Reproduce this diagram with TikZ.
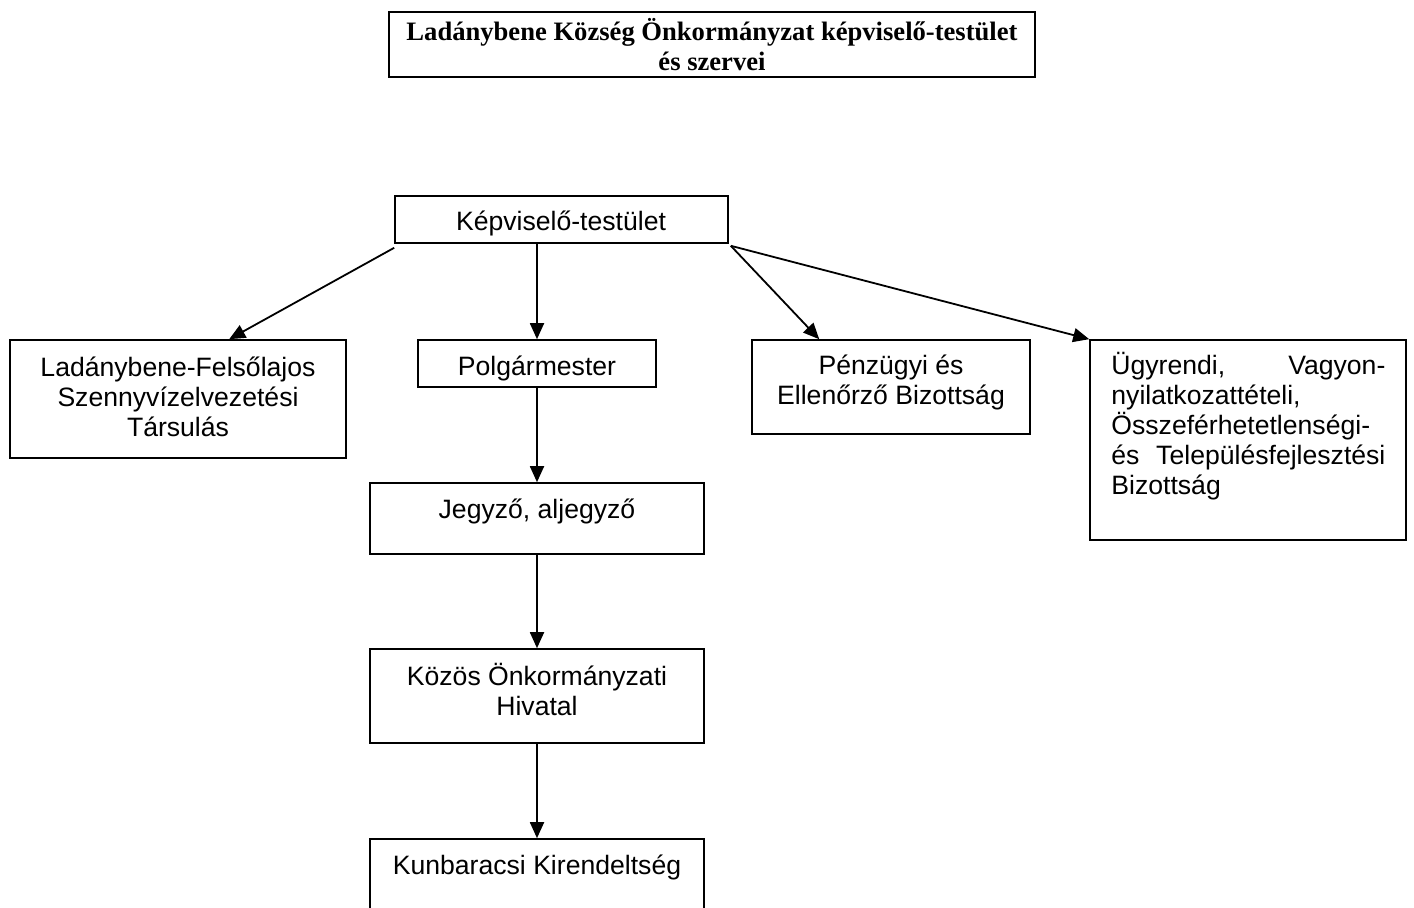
\documentclass[tikz,border=0pt]{standalone}
\usepackage{fontspec}
\setmainfont{Liberation Sans}
\newfontfamily\titlefont{Liberation Serif}
\usetikzlibrary{arrows.meta,fit}
\begin{document}
\begin{tikzpicture}[x=0.5pt,y=-0.5pt,
  box/.style={draw, line width=0.8pt, inner sep=0pt},
  lbl/.style={inner sep=0pt, align=center, font=\fontsize{13.3}{15}\selectfont},
  ttl/.style={inner sep=0pt, align=center, font=\titlefont\bfseries\fontsize{13.3}{15}\selectfont},
  arr/.style={line width=0.9pt, -{Triangle[length=8pt,width=7pt]}}]
\useasboundingbox (0,0) rectangle (1414,908);
% boxes
\node[box, fit={(389,12) (1035,77)}] (title) {};
\node[box, fit={(395,196) (728,243)}] (kep) {};
\node[box, fit={(10,340) (346,458)}] (tars) {};
\node[box, fit={(418,340) (656,387)}] (polg) {};
\node[box, fit={(752,340) (1030,434)}] (penz) {};
\node[box, fit={(1090,340) (1406,540)}] (ugy) {};
\node[box, fit={(370,483) (704,554)}] (jegy) {};
\node[box, fit={(370,649) (704,743)}] (kozos) {};
\node[box, fit={(370,839) (704,940)}] (kun) {};
% texts
\node[ttl] (titleT) at (712,45) {Ladánybene Község Önkormányzat képviselő-testület\\és szervei};
\node[lbl] (kepT) at (561,223) {Képviselő-testület};
\node[lbl] (tarsT) at (178,397) {Ladánybene-Felsőlajos\\Szennyvízelvezetési\\Társulás};
\node[lbl] (polgT) at (537,368) {Polgármester};
\node[lbl] (penzT) at (891,382) {Pénzügyi és\\Ellenőrző Bizottság};
\node[lbl, anchor=north west] (ugyT) at (1111,352) {\parbox{137pt}{\fontsize{13.3}{15}\selectfont
  Ügyrendi,\hfill Vagyon-\\nyilatkozattételi,\\Összeférhetetlenségi-\\és\hfill Településfejlesztési\\Bizottság}};
\node[lbl] (jegyT) at (537,511) {Jegyző, aljegyző};
\node[lbl] (kozosT) at (537,689) {Közös Önkormányzati\\Hivatal};
\node[lbl] (kunT) at (537,867) {Kunbaracsi Kirendeltség};
% connectors
\draw[arr] ([yshift=-2pt]kep.south west) -- ([xshift=110pt]tars.north west);
\draw[arr] (kep.south -| polg.north) -- (polg.north);
\draw[arr] ([xshift=1pt,yshift=-1pt]kep.south east) -- ([xshift=34pt]penz.north west);
\draw[arr] ([xshift=1pt,yshift=-1pt]kep.south east) -- (ugy.north west);
\draw[arr] (polg.south) -- (jegy.north);
\draw[arr] (jegy.south) -- (kozos.north);
\draw[arr] (kozos.south) -- (kun.north);
\end{tikzpicture}
\end{document}
